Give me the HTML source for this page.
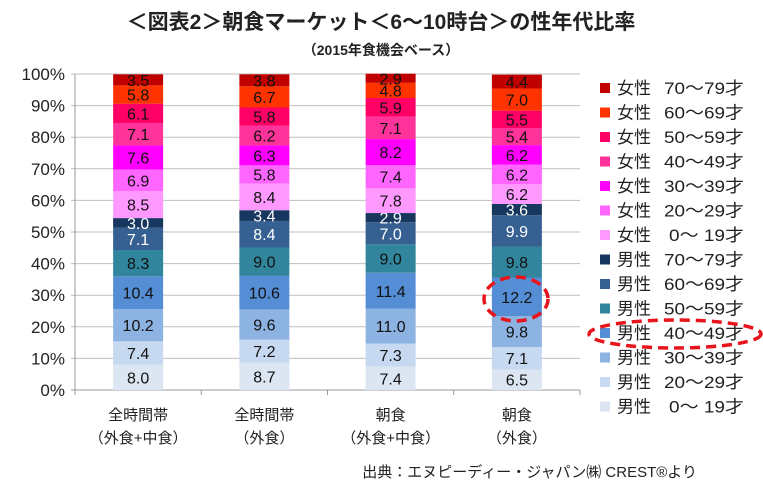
<!DOCTYPE html>
<html><head><meta charset="utf-8"><style>
body{margin:0;background:#fff;}
svg{display:block;font-family:"Liberation Sans","Noto Sans CJK JP",sans-serif;}
</style></head><body>
<svg id="c" width="763" height="490">
<text x="381" y="29" text-anchor="middle" font-size="21" font-weight="bold" fill="#222">＜図表2＞朝食マーケット＜6〜10時台＞の性年代比率</text>
<text x="381" y="55" text-anchor="middle" font-size="14" font-weight="bold" fill="#222">（2015年食機会ベース）</text>
<text x="697" y="477" text-anchor="end" font-size="15" fill="#222">出典：エヌピーディー・ジャパン㈱ CREST®より</text>
<g id="grid"></g><g id="bars"></g><g id="legend"></g>
<ellipse cx="516" cy="299" rx="32" ry="22" fill="none" stroke="#e8141c" stroke-width="3.5" stroke-dasharray="10,6"/>
<ellipse cx="675" cy="334" rx="86" ry="14" fill="none" stroke="#e8141c" stroke-width="3.5" stroke-dasharray="10,6"/>
</svg>
<script>
const categories1=["全時間帯","全時間帯","朝食","朝食"];
const categories2=["（外食+中食）","（外食）","（外食+中食）","（外食）"];
const seriesSex=["男性","男性","男性","男性","男性","男性","男性","女性","女性","女性","女性","女性","女性","女性"];
const seriesAge=["0〜 19才","20〜29才","30〜39才","40〜49才","50〜59才","60〜69才","70〜79才","0〜 19才","20〜29才","30〜39才","40〜49才","50〜59才","60〜69才","70〜79才"];
const bar1=[8.0,7.4,10.2,10.4,8.3,7.1,3.0,8.5,6.9,7.6,7.1,6.1,5.8,3.5];
const bar2=[8.7,7.2,9.6,10.6,9.0,8.4,3.4,8.4,5.8,6.3,6.2,5.8,6.7,3.8];
const bar3=[7.4,7.3,11.0,11.4,9.0,7.0,2.9,7.8,7.4,8.2,7.1,5.9,4.8,2.9];
const bar4=[6.5,7.1,9.8,12.2,9.8,9.9,3.6,6.2,6.2,6.2,5.4,5.5,7.0,4.4];
const yTicks=["0%","10%","20%","30%","40%","50%","60%","70%","80%","90%","100%"];
const values=[bar1,bar2,bar3,bar4];
const colors=["#dce6f2","#c6d9f1","#8db3e2","#558ed5","#31859c","#366092","#17375e","#ff99ff","#ff66ff","#ff00ff","#ff3399","#ff0066","#ff3300","#c00000"];
const whiteLbl=[5,6];
const NS="http://www.w3.org/2000/svg";
const X0=75,X1=580,Y0=390,Y1=74;
const catW=(X1-X0)/categories1.length,bw=50;
const y=v=>Y0-(Y0-Y1)*v/100;
const xc=i=>X0+catW*(i+0.5);
function mk(p,t,a){const e=document.createElementNS(NS,t);for(const k in a)e.setAttribute(k,a[k]);p.appendChild(e);return e;}
const grid=document.getElementById('grid'),bars=document.getElementById('bars'),leg=document.getElementById('legend');
yTicks.forEach((t,i)=>{const v=i*10;
 const l=mk(grid,'line',{x1:X0-4,x2:X1,y1:y(v),y2:y(v),stroke:i?'#bfbfbf':'#999','stroke-width':1});
 
 
 const tx=mk(grid,'text',{x:X0-10,y:y(v)+6,'text-anchor':'end','font-size':17,fill:'#222'});tx.textContent=t;
 
 
});
mk(grid,'line',{x1:X0,x2:X0,y1:Y1,y2:Y0+4,stroke:'#999'});
for(let i=0;i<=categories1.length;i++){mk(grid,'line',{x1:X0+catW*i,x2:X0+catW*i,y1:Y0,y2:Y0+5,stroke:'#999'});}
values.forEach((arr,i)=>{let cum=0;
 arr.forEach((v,j)=>{const yt=y(cum+v),yb=y(cum);
  const r=mk(bars,'rect',{x:xc(i)-bw/2,y:yt,width:bw,height:yb-yt,fill:colors[j]});
  
  
  const t=mk(bars,'text',{x:xc(i),y:(yt+yb)/2+6,'text-anchor':'middle','font-size':16,fill:whiteLbl.includes(j)?'#fff':'#111'});
  t.textContent=v.toFixed(1);
  
  
  cum+=v;});
 const c1=mk(bars,'text',{x:xc(i),y:420,'text-anchor':'middle','font-size':15,fill:'#222'});c1.textContent=categories1[i];
 
 
 const c2=mk(bars,'text',{x:xc(i),y:443,'text-anchor':'middle','font-size':15,fill:'#222'});c2.textContent=categories2[i];
 
 
});
for(let k=0;k<seriesSex.length;k++){const j=seriesSex.length-1-k;const cy=88+k*24.5;
 const g=mk(leg,'g',{});
 
 
 mk(g,'rect',{x:600,y:cy-5,width:10,height:10,fill:colors[j]});
 const t=mk(g,'text',{x:617,y:cy+6,'font-size':17,fill:'#222'});
 t.textContent=seriesSex[j];
 const short=seriesAge[j].startsWith('0');
 const a=mk(g,'text',{x:short?669:664,y:cy+6,'font-size':17,fill:'#222',textLength:short?75:80,lengthAdjust:'spacingAndGlyphs'});
 a.textContent=seriesAge[j];
}
</script>
</body></html>
